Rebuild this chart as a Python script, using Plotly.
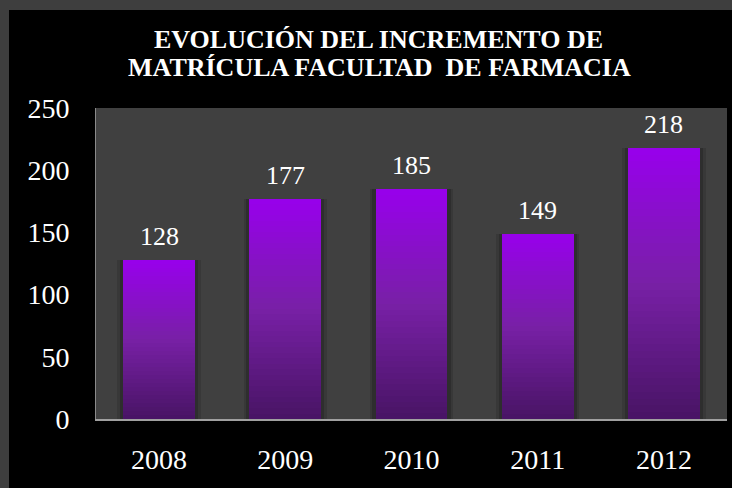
import plotly.graph_objects as go

# ---- data ----
years = ["2008", "2009", "2010", "2011", "2012"]
enrolment = [128, 177, 185, 149, 218]
title_lines = ["EVOLUCIÓN DEL INCREMENTO DE", "MATRÍCULA FACULTAD  DE FARMACIA"]

# ---- style ----
TOP_RGB = (152, 0, 236)
MID_RGB = (120, 32, 166)
BOT_RGB = (72, 20, 100)
N_SEG = 40
BAR_W = 0.57
SERIF = "Liberation Serif"
FRAME = "#3e3e3e"

# plot-area pixel geometry (for paper-coordinate decorations)
W, H = 732, 488
L, R, T, B = 96, 5, 108, 69
PW, PH = W - L - R, H - T - B


def px_x(px):
    return (px - L) / PW


def px_y(py):
    return (H - B - py) / PH


def lerp(a, b, t):
    return tuple(round(a[i] + (b[i] - a[i]) * t) for i in range(3))


def grad(t):  # t: 0 bottom, 1 top
    if t < 0.5:
        c = lerp(BOT_RGB, MID_RGB, t / 0.5)
    else:
        c = lerp(MID_RGB, TOP_RGB, (t - 0.5) / 0.5)
    return "rgb(%d,%d,%d)" % c


fig = go.Figure()

# soft shadow behind bars
for w, a in [(0.66, 0.18), (0.62, 0.28)]:
    fig.add_trace(go.Bar(x=years, y=enrolment, width=w,
                         marker=dict(color="rgba(20,20,20,%s)" % a, line_width=0),
                         hoverinfo="skip", showlegend=False))

# gradient bars: each bar split into N_SEG segments from the data value
for k in range(N_SEG):
    seg = [v / N_SEG for v in enrolment]
    base = [v * k / N_SEG for v in enrolment]
    fig.add_trace(go.Bar(x=years, y=seg, base=base, width=BAR_W,
                         marker=dict(color=grad((k + 0.5) / N_SEG), line_width=0),
                         hoverinfo="skip", showlegend=False))

shapes = [
    # grey frame: left strip and top strip
    dict(type="rect", xref="paper", yref="paper", layer="below",
         x0=px_x(-2), x1=px_x(9), y0=px_y(H + 2), y1=px_y(-2),
         fillcolor=FRAME, line_width=0),
    dict(type="rect", xref="paper", yref="paper", layer="below",
         x0=px_x(-2), x1=px_x(W + 2), y0=px_y(10), y1=px_y(-2),
         fillcolor=FRAME, line_width=0),
    # grey plot area
    dict(type="rect", xref="paper", yref="paper", layer="below",
         x0=0, x1=1, y0=0, y1=1, fillcolor="#404040", line_width=0),
]

annotations = [
    dict(text=title_lines[0], xref="paper", yref="paper", x=px_x(378), y=px_y(39),
         xanchor="center", yanchor="middle", showarrow=False,
         font=dict(family=SERIF, size=26, color="white", weight="bold")),
    dict(text=title_lines[1], xref="paper", yref="paper", x=px_x(379), y=px_y(67),
         xanchor="center", yanchor="middle", showarrow=False,
         font=dict(family=SERIF, size=26, color="white", weight="bold")),
]
# value labels above bars (x given as category index)
for i, v in enumerate(enrolment):
    annotations.append(dict(text=str(v), x=i, y=v, xref="x", yref="y",
                            xanchor="center", yanchor="middle", yshift=23,
                            showarrow=False,
                            font=dict(family=SERIF, size=26, color="white")))

fig.update_layout(
    width=W, height=H,
    margin=dict(l=L, r=R, t=T, b=B, pad=0),
    paper_bgcolor="black",
    plot_bgcolor="rgba(0,0,0,0)",
    barmode="overlay",
    bargap=0,
    shapes=shapes,
    annotations=annotations,
    showlegend=False,
)
fig.update_xaxes(type="category", categoryorder="array", categoryarray=years,
                 range=[-0.5, len(years) - 0.5],
                 showgrid=False, zeroline=False,
                 showline=True, linecolor="#a0a0a0", linewidth=2,
                 ticks="", ticklabelstandoff=14,
                 tickfont=dict(family=SERIF, size=28, color="white"))
fig.update_yaxes(range=[0, 250], dtick=50, showgrid=False, zeroline=False,
                 showline=True, linecolor="#8a8a8a", linewidth=1,
                 ticks="", ticklabelstandoff=20,
                 tickfont=dict(family=SERIF, size=28, color="white"))

fig.write_html(
    "out.html",
    config={"displayModeBar": False},
    post_script="document.body.style.margin='0';document.body.style.background='black';",
)
